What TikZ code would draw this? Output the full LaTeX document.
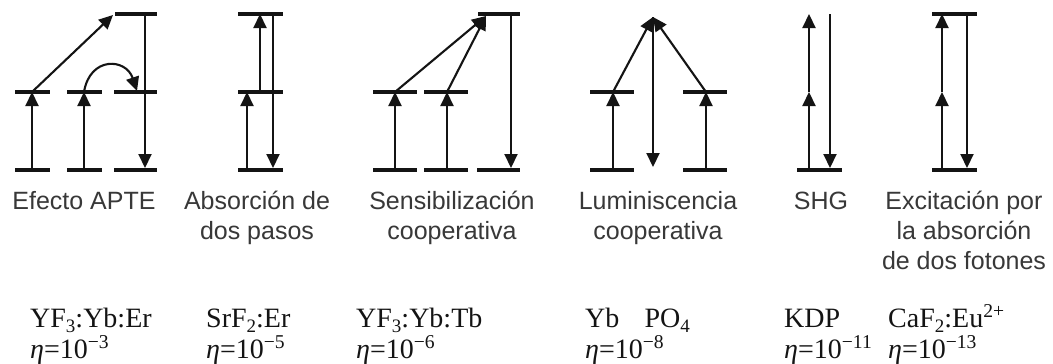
\documentclass[tikz,border=0pt]{standalone}
\usepackage{fontspec}
\setmainfont{Liberation Serif}
\setsansfont{Liberation Sans}
\usetikzlibrary{arrows.meta}
\definecolor{ink}{HTML}{141414}
\definecolor{labelgray}{HTML}{383838}
\tikzset{
  lvl/.style={line width=3.1pt, draw=ink},
  arr/.style={line width=2.1pt, draw=ink, -{Triangle[width=13pt,length=14pt]}},
  toplabel/.style={font=\sffamily\fontsize{25}{30}\selectfont, text=labelgray, align=center, anchor=base, inner sep=0pt},
  botlabel/.style={font=\fontsize{28}{31}\selectfont, text=ink, align=left, anchor=base west, inner sep=0pt},
}
\newcommand{\lowsub}[1]{\raisebox{-0.2em}{\fontsize{19}{19}\selectfont #1}}
\begin{document}
\begin{tikzpicture}[x=1pt,y=-1pt]
\fill[white] (0,0) rectangle (1053,364);
\useasboundingbox (0,0) rectangle (1053,364);

% ---------- Panel 1: Efecto APTE ----------
\draw[lvl] (15,92) -- (50,92);   \draw[lvl] (15,170) -- (50,170);
\draw[lvl] (67,92) -- (102,92);  \draw[lvl] (67,170) -- (102,170);
\draw[lvl] (115,14) -- (157,14); \draw[lvl] (114,92) -- (157,92); \draw[lvl] (114,170) -- (157,170);
\coordinate (a1g) at (32,170);  \coordinate (a1m) at (32,92);
\coordinate (a2g) at (84,170);  \coordinate (a2m) at (84,92);
\coordinate (a3t) at (145,14);  \coordinate (a3g) at (145,168);
\coordinate (a3top) at (113,15); \coordinate (a3m) at (137,91);
\draw[arr] (a1g) -- (a1m);
\draw[arr] (a2g) -- (a2m);
\draw[arr] (a1m) -- (a3top);
\draw[arr] (a2m) .. controls (90,56) and (126,58) .. (a3m);
\draw[arr] (a3t) -- (a3g);

% ---------- Panel 2: Absorcion de dos pasos ----------
\draw[lvl] (238,14) -- (283,14); \draw[lvl] (238,92) -- (283,92); \draw[lvl] (238,170) -- (283,170);
\coordinate (b1g) at (247,170); \coordinate (b1m) at (247,92);
\coordinate (b2m) at (260,92);  \coordinate (b2t) at (260,14);
\coordinate (b3t) at (273,14);  \coordinate (b3g) at (273,168);
\draw[arr] (b1g) -- (b1m);
\draw[arr] (b2m) -- (b2t);
\draw[arr] (b3t) -- (b3g);

% ---------- Panel 3: Sensibilizacion cooperativa ----------
\draw[lvl] (373,92) -- (417,92); \draw[lvl] (373,170) -- (417,170);
\draw[lvl] (424,92) -- (468,92); \draw[lvl] (424,170) -- (468,170);
\draw[lvl] (478,14) -- (520,14); \draw[lvl] (477,170) -- (520,170);
\coordinate (c1g) at (395,170); \coordinate (c1m) at (395,92);
\coordinate (c2g) at (447,170); \coordinate (c2m) at (447,92);
\coordinate (c3top) at (486,16);
\coordinate (c3t) at (511,14); \coordinate (c3g) at (511,168);
\draw[arr] (c1g) -- (c1m);
\draw[arr] (c2g) -- (c2m);
\draw[arr] (c1m) -- (c3top);
\draw[arr] (c2m) -- (c3top);
\draw[arr] (c3t) -- (c3g);

% ---------- Panel 4: Luminiscencia cooperativa ----------
\draw[lvl] (590,92) -- (634,92); \draw[lvl] (590,170) -- (634,170);
\draw[lvl] (683,92) -- (727,92); \draw[lvl] (683,170) -- (727,170);
\coordinate (d1g) at (613,170); \coordinate (d1m) at (613,92);
\coordinate (d2g) at (706,170); \coordinate (d2m) at (706,92);
\coordinate (dtop) at (653,17);  \coordinate (dbot) at (653,167);
\draw[arr] (d1g) -- (d1m);
\draw[arr] (d2g) -- (d2m);
\draw[arr] (d1m) -- (dtop);
\draw[arr] (d2m) -- (dtop);
\draw[arr] (dtop) -- (dbot);

% ---------- Panel 5: SHG ----------
\draw[lvl] (797,170) -- (842,170);
\coordinate (e1g) at (809,170); \coordinate (e1m) at (809,92); \coordinate (e1t) at (809,14);
\coordinate (e2t) at (830,14);  \coordinate (e2g) at (830,168);
\draw[arr] (e1g) -- (e1m);
\draw[arr] (e1m) -- (e1t);
\draw[arr] (e2t) -- (e2g);

% ---------- Panel 6: Excitacion por la absorcion de dos fotones ----------
\draw[lvl] (932,14) -- (977,14); \draw[lvl] (932,170) -- (977,170);
\coordinate (f1g) at (942,170); \coordinate (f1m) at (942,92); \coordinate (f1t) at (942,14);
\coordinate (f2t) at (967,14);  \coordinate (f2g) at (967,168);
\draw[arr] (f1g) -- (f1m);
\draw[arr] (f1m) -- (f1t);
\draw[arr] (f2t) -- (f2g);

% ---------- Labels (base anchor = baseline of the last line) ----------
\node[toplabel] (l1) at (84,209)  {Efecto APTE};
\node[toplabel] (l2) at (257,239) {Absorción de\\dos pasos};
\node[toplabel] (l3) at (452,239) {Sensibilización\\cooperativa};
\node[toplabel] (l4) at (658,239) {Luminiscencia\\cooperativa};
\node[toplabel] (l5) at (821,209) {SHG};
\node[toplabel] (l6) at (964,269) {Excitación por\\la absorción\\de dos fotones};

\node[botlabel] (m1) at (30,358)  {YF\lowsub{3}:Yb:Er\\{\itshape η}=10\textsuperscript{−3}};
\node[botlabel] (m2) at (206,358) {SrF\lowsub{2}:Er\\{\itshape η}=10\textsuperscript{−5}};
\node[botlabel] (m3) at (356,358) {YF\lowsub{3}:Yb:Tb\\{\itshape η}=10\textsuperscript{−6}};
\node[botlabel] (m4) at (585,358) {Yb\hspace{0.9em}PO\lowsub{4}\\{\itshape η}=10\textsuperscript{−8}};
\node[botlabel] (m5) at (784,358) {KDP\\{\itshape η}=10\textsuperscript{−11}};
\node[botlabel] (m6) at (888,358) {CaF\lowsub{2}:Eu\textsuperscript{2+}\\{\itshape η}=10\textsuperscript{−13}};
\end{tikzpicture}
\end{document}
